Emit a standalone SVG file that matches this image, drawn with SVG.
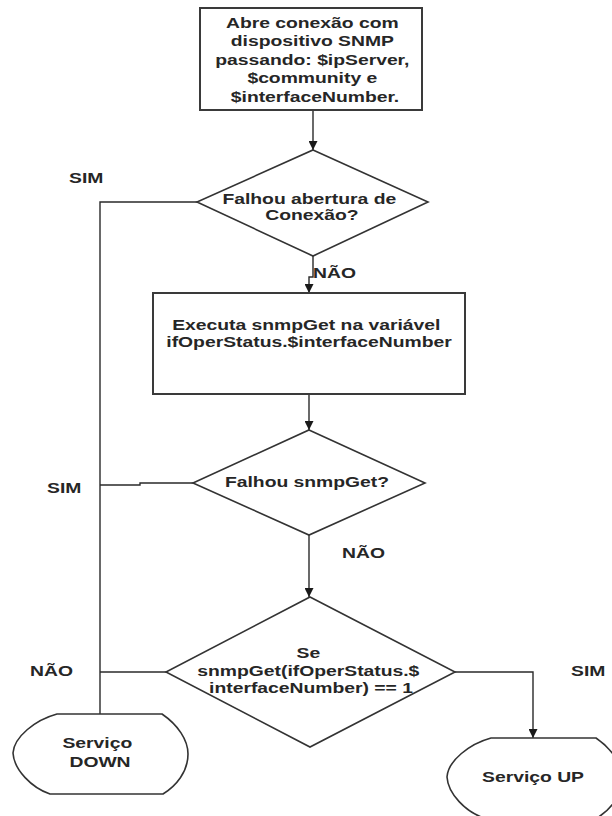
<svg xmlns="http://www.w3.org/2000/svg" width="612" height="816" viewBox="0 0 612 816">
  <style>
    .shape { fill: #ffffff; stroke: #333333; stroke-width: 1.6; }
    .box { fill: #ffffff; stroke: #3a3a3a; stroke-width: 2; }
    .link { fill: none; stroke: #2a2a2a; stroke-width: 1.4; }
    .t { font-family: "Liberation Sans", Arial, sans-serif; font-weight: bold; font-size: 14px; fill: #262626; text-anchor: middle; }
    .lbl { font-family: "Liberation Sans", Arial, sans-serif; font-weight: bold; font-size: 14px; fill: #262626; }
  </style>
  <defs>
    <marker id="arrow" markerUnits="userSpaceOnUse" markerWidth="9" markerHeight="9" refX="9" refY="4.5" orient="auto">
      <path d="M0,0 L9,4.5 L0,9 z" fill="#1a1a1a"/>
    </marker>
  </defs>
  <rect width="612" height="816" fill="#ffffff"/>

  <!-- connectors -->
  <g id="connectors">
    <path class="link" d="M313,110 V150" marker-end="url(#arrow)"/>
    <path class="link" d="M313,256 V277 H309 V293" marker-end="url(#arrow)"/>
    <path class="link" d="M309,394 V430" marker-end="url(#arrow)"/>
    <path class="link" d="M309,535 V597" marker-end="url(#arrow)"/>
    <path class="link" d="M197,202 H100 V714"/>
    <path class="link" d="M193,483 H140 V485 H100"/>
    <path class="link" d="M166,672 H100"/>
    <path class="link" d="M455,672 H533 V738" marker-end="url(#arrow)"/>
  </g>

  <!-- branch labels -->
  <g id="labels">
    <text class="lbl" transform="translate(69 0) scale(1.38 1)" x="0" y="183">SIM</text>
    <text class="lbl" transform="translate(313 0) scale(1.38 1)" x="0" y="278">NÃO</text>
    <text class="lbl" transform="translate(47 0) scale(1.38 1)" x="0" y="493">SIM</text>
    <text class="lbl" transform="translate(342 0) scale(1.38 1)" x="0" y="558">NÃO</text>
    <text class="lbl" transform="translate(30 0) scale(1.38 1)" x="0" y="676">NÃO</text>
    <text class="lbl" transform="translate(571 0) scale(1.38 1)" x="0" y="676">SIM</text>
  </g>

  <!-- open connection -->
  <g id="open-connection">
    <rect class="box" x="200" y="8" width="222" height="102"/>
    <text class="t" transform="translate(315 0) scale(1.38 1)">
      <tspan x="0" y="28">Abre conexão com</tspan>
      <tspan x="0" y="46.5">dispositivo SNMP</tspan>
      <tspan x="0" y="65">passando: $ipServer,</tspan>
      <tspan x="0" y="83.5">$community e</tspan>
      <tspan x="0" y="102">$interfaceNumber.</tspan>
    </text>
  </g>

  <!-- connection failed? -->
  <g id="connection-failed">
    <polygon class="shape" points="313,150 428,202 313,256 197,202"/>
    <text class="t" transform="translate(312 0) scale(1.38 1)">
      <tspan x="0" y="204.5">Falhou abertura de</tspan>
      <tspan x="0" y="220">Conexão?</tspan>
    </text>
  </g>

  <!-- snmpGet -->
  <g id="run-snmpget">
    <rect class="box" x="153" y="293" width="312" height="101"/>
    <text class="t" transform="translate(309 0) scale(1.38 1)">
      <tspan x="0" y="330">Executa snmpGet na variável</tspan>
      <tspan x="0" y="347">ifOperStatus.$interfaceNumber</tspan>
    </text>
  </g>

  <!-- snmpGet failed? -->
  <g id="snmpget-failed">
    <polygon class="shape" points="309,430 425,483 309,535 193,483"/>
    <text class="t" transform="translate(307 0) scale(1.38 1)" x="0" y="487">Falhou snmpGet?</text>
  </g>

  <!-- status check -->
  <g id="status-check">
    <polygon class="shape" points="310,597 455,672 310,747 166,672"/>
    <text class="t" transform="translate(311 0) scale(1.38 1)">
      <tspan x="0" y="658">Se</tspan>
      <tspan x="0" y="676">snmpGet(ifOperStatus.$</tspan>
      <tspan x="0" y="693">interfaceNumber) == 1</tspan>
    </text>
  </g>

  <!-- service down -->
  <g id="service-down">
    <path class="shape" d="M57,714 H162 C178,725 188,740 188,754 C188,772 176,786 163,794 H50 C32,788 14,770 13,753 C14,737 35,720 57,714 Z"/>
    <text class="t" transform="translate(100 0) scale(1.38 1)">
      <tspan x="0" y="748">Serviço</tspan>
      <tspan x="0" y="767">DOWN</tspan>
    </text>
  </g>

  <!-- service up -->
  <g id="service-up">
    <path class="shape" d="M491,738 H596 C612,749 622,764 622,778 C622,796 610,810 597,818 H484 C466,812 448,794 447,777 C448,761 469,744 491,738 Z"/>
    <text class="t" transform="translate(533 0) scale(1.38 1)" x="0" y="782">Serviço UP</text>
  </g>
</svg>
